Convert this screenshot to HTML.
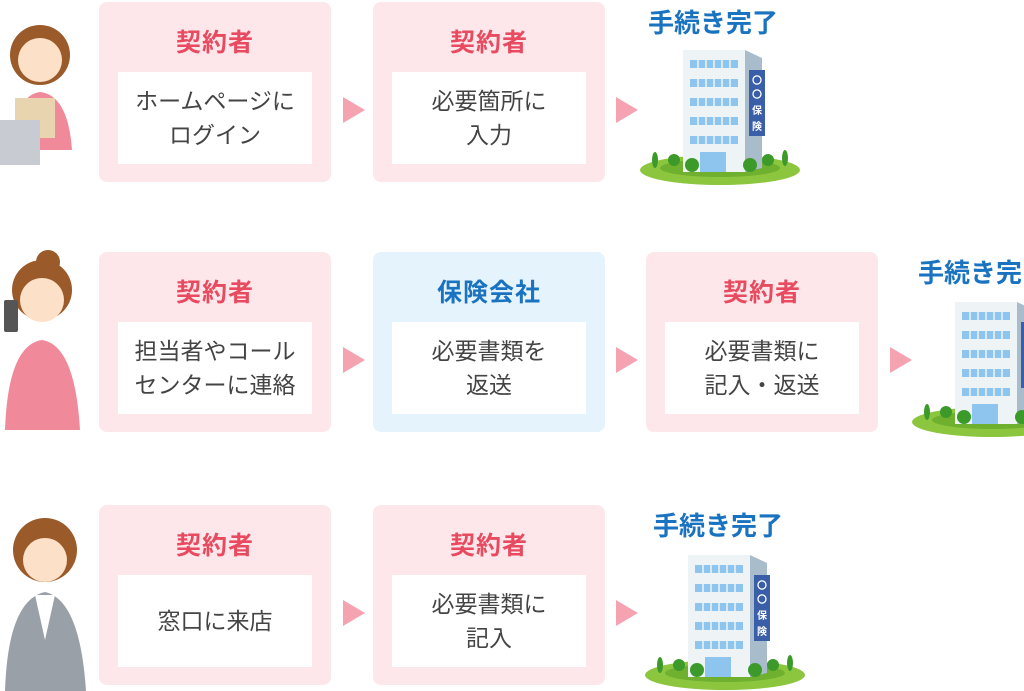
<!DOCTYPE html>
<html><head><meta charset="utf-8"><style>
body{margin:0;width:1024px;height:691px;background:#fff;position:relative;overflow:hidden;font-family:"Liberation Sans","Noto Sans CJK JP",sans-serif}
.b{position:absolute;width:232px;height:180px;border-radius:8px;background:#fde7ea}
.b.blue{background:#e5f3fc}
.t{position:absolute;top:21px;width:100%;text-align:center;font-size:25px;font-weight:bold;color:#e84a5f;letter-spacing:1px}
.blue .t{color:#1a73c0}
.in{position:absolute;left:19px;top:70px;width:194px;height:92px;background:#fff;display:flex;align-items:center;justify-content:center;text-align:center;font-size:23px;line-height:34px;color:#444}
.ar{position:absolute;width:0;height:0;border-top:13px solid transparent;border-bottom:13px solid transparent;border-left:22px solid #f5a3b0}
svg{position:absolute;left:0;top:0}
</style></head><body>
<svg width="1024" height="691">
<defs>
<pattern id="win" x="690" y="0" width="8" height="19" patternUnits="userSpaceOnUse"><rect width="6.5" height="8" fill="#8ec5ee"/></pattern>
<g id="bld">
<ellipse cx="720" cy="170" rx="80" ry="15" fill="#8cc63f"/>
<ellipse cx="720" cy="168" rx="60" ry="9" fill="#6fb02e"/>
<polygon points="745,50 762,58 762,168 745,172" fill="#a9bccb"/>
<rect x="683" y="50" width="62" height="122" fill="#eef3f6"/>
<g fill="#8ec5ee">
<rect x="690" y="60" width="48" height="8"/><rect x="690" y="79" width="48" height="8"/><rect x="690" y="98" width="48" height="8"/><rect x="690" y="117" width="48" height="8"/><rect x="690" y="136" width="48" height="8"/>
<rect x="700" y="152" width="26" height="20"/></g>
<g stroke="#eef3f6" stroke-width="1.5"><line x1="698" y1="58" x2="698" y2="146"/><line x1="706" y1="58" x2="706" y2="146"/><line x1="714" y1="58" x2="714" y2="146"/><line x1="722" y1="58" x2="722" y2="146"/><line x1="730" y1="58" x2="730" y2="146"/></g>
<rect x="749" y="70" width="16" height="66" fill="#3b5ea8"/>
<circle cx="674" cy="160" r="6" fill="#3c9a2a"/><circle cx="692" cy="165" r="7" fill="#3c9a2a"/><circle cx="750" cy="165" r="7" fill="#3c9a2a"/><circle cx="768" cy="160" r="6" fill="#3c9a2a"/>
<ellipse cx="655" cy="160" rx="3" ry="8" fill="#3c9a2a"/><ellipse cx="785" cy="158" rx="3" ry="8" fill="#3c9a2a"/>
</g>
</defs>
<use href="#bld"/>
<use href="#bld" x="272" y="252"/>
<use href="#bld" x="5" y="505"/>
<g font-size="10" font-weight="bold" fill="#fff" text-anchor="middle">
<text x="757" y="84">〇</text><text x="757" y="98">〇</text><text x="757" y="114">保</text><text x="757" y="130">険</text>
<text x="1029" y="336">〇</text><text x="1029" y="350">〇</text>
<text x="762" y="589">〇</text><text x="762" y="603">〇</text><text x="762" y="619">保</text><text x="762" y="635">険</text>
</g>
<g font-size="26" font-weight="bold" fill="#1a73c0">
<text x="648" y="32">手続き完了</text><text x="918" y="282">手続き完了</text><text x="653" y="535">手続き完了</text>
</g>
<g>
<circle cx="40" cy="55" r="30" fill="#9a5a2a"/><circle cx="40" cy="60" r="22" fill="#fde0c8"/>
<path d="M12 150 Q15 95 40 92 Q68 95 72 150Z" fill="#f08a9a"/>
<rect x="15" y="98" width="40" height="40" fill="#e8d5b0"/>
<rect x="0" y="120" width="40" height="45" fill="#c8ccd2"/>
<circle cx="42" cy="290" r="30" fill="#9a5a2a"/><circle cx="48" cy="262" r="12" fill="#9a5a2a"/><circle cx="42" cy="300" r="22" fill="#fde0c8"/>
<path d="M5 430 Q8 345 42 340 Q75 345 80 430Z" fill="#f08a9a"/>
<rect x="4" y="300" width="14" height="32" rx="2" fill="#555"/>
<circle cx="45" cy="550" r="32" fill="#9a5a2a"/><circle cx="45" cy="560" r="22" fill="#fde0c8"/>
<path d="M5 691 Q8 600 45 592 Q80 600 86 691Z" fill="#9aa0a8"/>
<path d="M35 595 L45 640 L55 595Z" fill="#fff"/>
</g>
</svg>
<div class="b" style="left:99px;top:2px"><div class="t">契約者</div><div class="in">ホームページに<br>ログイン</div></div>
<div class="b" style="left:373px;top:2px"><div class="t">契約者</div><div class="in">必要箇所に<br>入力</div></div>
<div class="b" style="left:99px;top:252px"><div class="t">契約者</div><div class="in">担当者やコール<br>センターに連絡</div></div>
<div class="b blue" style="left:373px;top:252px"><div class="t">保険会社</div><div class="in">必要書類を<br>返送</div></div>
<div class="b" style="left:646px;top:252px"><div class="t">契約者</div><div class="in">必要書類に<br>記入・返送</div></div>
<div class="b" style="left:99px;top:505px"><div class="t">契約者</div><div class="in">窓口に来店</div></div>
<div class="b" style="left:373px;top:505px"><div class="t">契約者</div><div class="in">必要書類に<br>記入</div></div>
<div class="ar" style="left:343px;top:97px"></div>
<div class="ar" style="left:616px;top:97px"></div>
<div class="ar" style="left:343px;top:347px"></div>
<div class="ar" style="left:616px;top:347px"></div>
<div class="ar" style="left:890px;top:347px"></div>
<div class="ar" style="left:343px;top:600px"></div>
<div class="ar" style="left:616px;top:600px"></div>
</body></html>
